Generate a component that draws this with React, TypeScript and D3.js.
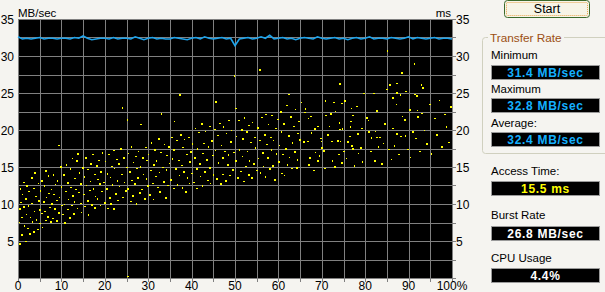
import React from "react";
import * as d3 from "d3";

const W = 605;
const H = 292;

const yTicks = [5, 10, 15, 20, 25, 30, 35];
const xTicks = [0, 10, 20, 30, 40, 50, 60, 70, 80, 90, 100];

// transfer rate (MB/sec) sampled at 0..100 %
const transferRate = [
  32.6, 32.3, 32.4, 32.3, 32.4, 32.5, 32.3, 32.4, 32.4, 32.3,
  32.4, 32.4, 32.3, 32.5, 32.4, 32.7, 32.4, 32.2, 32.3, 32.4,
  32.4, 32.3, 32.5, 32.3, 32.4, 32.4, 32.3, 32.6, 32.4, 32.2,
  32.4, 32.5, 32.3, 32.4, 32.3, 32.3, 32.5, 32.4, 32.3, 32.2,
  32.4, 32.5, 32.3, 32.6, 32.4, 32.3, 32.4, 32.5, 32.3, 32.4,
  31.4, 32.3, 32.4, 32.5, 32.3, 32.4, 32.6, 32.4, 32.8, 32.3,
  32.4, 32.5, 32.3, 32.4, 32.2, 32.4, 32.5, 32.4, 32.3, 32.6,
  32.4, 32.3, 32.4, 32.5, 32.3, 32.4, 32.2, 32.4, 32.5, 32.3,
  32.4, 32.6, 32.3, 32.4, 32.4, 32.3, 32.5, 32.4, 32.3, 32.4,
  32.6, 32.3, 32.5, 32.4, 32.3, 32.4, 32.5, 32.3, 32.4, 32.4,
  32.3,
];

// access time samples [position %, ms]
const accessPoints: [number, number][] = [
  [0.2,9.4],[0.3,7.6],[0.3,4.7],[0.4,10.3],[0.5,12.1],[0.7,8.2],[0.8,6.0],[0.9,11.4],[1.1,9.7],[1.2,13.0],[1.3,7.1],[1.5,5.0],[1.6,10.8],[1.8,8.6],[1.9,12.6],[2.1,6.8],[2.2,9.9],[2.4,11.7],[2.6,6.1],[2.7,8.3],[2.9,13.7],[3.0,10.1],[3.2,7.7],[3.4,12.2],[3.5,6.4],[3.7,9.0],[3.8,14.3],[4.0,11.1],[4.2,8.0],[4.3,6.6],[4.5,10.6],[4.6,12.9],[4.8,9.3],[4.9,7.4],
  [5.1,11.9],[5.2,8.8],[5.4,13.3],[5.5,6.9],[5.7,10.4],[5.9,9.1],[6.0,12.5],[6.2,7.9],[6.3,14.6],[6.5,10.9],[6.6,8.4],[6.8,11.5],[7.0,13.9],[7.1,9.6],[7.3,7.7],[7.5,12.0],[7.6,10.2],[7.8,8.1],[8.0,14.0],[8.1,11.3],[8.3,9.4],[8.5,12.7],[8.7,7.8],[8.8,10.6],[9.0,13.2],[9.2,18.0],[9.3,8.9],[9.5,11.0],[9.7,15.1],[9.8,9.8],
  [10.0,12.4],[10.2,8.6],[10.3,14.1],[10.5,10.0],[10.7,7.6],[10.8,11.8],[11.0,15.4],[11.2,9.3],[11.3,13.0],[11.5,10.7],[11.7,8.3],[11.9,12.3],[12.0,14.8],[12.2,9.9],[12.4,11.2],[12.5,16.2],[12.7,8.8],[12.9,13.5],[13.0,10.4],[13.2,12.0],[13.4,15.9],[13.5,9.5],[13.7,16.9],[13.9,11.6],[14.0,14.3],[14.2,10.1],[14.4,12.8],[14.6,8.9],[14.8,15.0],
  [15.0,11.4],[15.2,13.8],[15.3,9.7],[15.5,16.3],[15.7,12.6],[15.9,10.5],[16.0,14.7],[16.2,8.7],[16.4,11.9],[16.6,15.6],[16.7,13.1],[16.9,10.0],[17.1,16.8],[17.3,12.2],[17.4,14.0],[17.6,9.6],[17.8,11.1],[18.0,15.3],[18.1,13.4],[18.3,10.8],[18.5,16.0],[18.7,12.9],[18.9,9.9],[19.0,14.5],[19.2,11.7],[19.4,17.0],[19.6,13.0],[19.8,10.3],
  [20.0,15.8],[20.2,12.1],[20.4,9.5],[20.5,14.2],[20.7,16.7],[20.9,11.0],[21.1,13.6],[21.3,10.2],[21.4,15.1],[21.6,12.7],[21.8,17.3],[22.0,9.4],[22.2,14.8],[22.4,11.5],[22.5,16.1],[22.7,13.2],[22.9,10.6],[23.1,15.5],[23.3,12.4],[23.5,17.6],[23.7,14.0],[23.9,23.1],[24.0,10.9],[24.2,16.4],[24.4,13.0],[24.6,11.9],[24.8,15.0],
  [25.0,21.5],[25.1,0.3],[25.2,12.2],[25.4,16.9],[25.6,14.4],[25.8,10.4],[26.0,17.8],[26.1,13.3],[26.3,11.2],[26.5,15.7],[26.7,12.8],[26.9,16.5],[27.1,10.1],[27.3,14.9],[27.5,13.7],[27.7,17.1],[27.9,11.6],[28.0,20.8],[28.2,15.2],[28.4,12.0],[28.6,16.3],[28.8,14.1],[29.0,10.8],[29.2,17.7],[29.4,13.5],[29.6,15.9],[29.8,12.5],
  [30.0,16.8],[30.2,11.3],[30.4,14.6],[30.6,18.4],[30.8,12.9],[31.0,15.4],[31.2,10.7],[31.4,17.5],[31.6,13.8],[31.8,16.0],[32.0,12.3],[32.2,18.9],[32.4,14.3],[32.6,11.8],[32.8,17.0],[33.0,22.3],[33.2,15.0],[33.4,13.1],[33.6,18.1],[33.8,11.0],[34.0,16.6],[34.2,14.7],[34.4,12.6],[34.6,17.9],[34.8,15.6],
  [35.0,13.4],[35.2,19.1],[35.4,16.2],[35.6,12.1],[35.8,17.4],[36.0,21.2],[36.2,14.9],[36.4,18.6],[36.6,12.7],[36.8,16.0],[37.0,24.9],[37.1,13.9],[37.3,19.4],[37.5,15.3],[37.7,12.3],[37.9,17.7],[38.1,14.5],[38.3,18.8],[38.5,11.7],[38.7,16.7],[38.9,13.6],[39.1,19.0],[39.3,15.8],[39.5,12.9],[39.7,17.2],[39.9,14.2],
  [40.1,18.3],[40.3,13.0],[40.5,16.4],[40.7,20.3],[40.9,14.8],[41.1,12.2],[41.3,17.6],[41.5,19.7],[41.7,15.5],[41.9,13.8],[42.1,20.9],[42.3,16.9],[42.5,12.6],[42.7,18.2],[42.9,14.4],[43.1,19.9],[43.3,16.1],[43.5,13.3],[43.7,17.8],[43.9,20.6],[44.1,15.0],[44.3,12.9],[44.5,18.7],[44.7,16.6],[44.9,14.0],
  [45.1,20.1],[45.4,23.9],[45.5,17.3],[45.7,13.5],[45.9,19.3],[46.1,15.7],[46.3,21.0],[46.5,12.8],[46.7,18.0],[46.9,16.3],[47.1,14.1],[47.3,20.5],[47.5,17.1],[47.7,13.2],[47.9,19.6],[48.1,15.4],[48.3,21.3],[48.5,16.8],[48.7,13.9],[48.9,18.5],[49.1,20.0],[49.3,14.7],[49.5,17.0],[49.8,27.4],[49.9,23.0],
  [50.1,15.9],[50.3,19.2],[50.5,13.7],[50.7,21.4],[50.9,17.5],[51.1,14.4],[51.3,20.2],[51.5,16.5],[51.7,18.9],[51.9,13.1],[52.1,21.8],[52.3,15.2],[52.5,19.8],[52.7,17.2],[52.9,14.0],[53.1,20.7],[53.3,16.0],[53.5,18.4],[53.7,13.6],[53.9,21.1],[54.1,15.6],[54.3,19.0],[54.6,17.7],[54.8,14.6],
  [55.0,20.4],[55.2,16.2],[55.5,28.2],[55.6,18.6],[55.8,14.3],[56.0,21.7],[56.2,17.0],[56.4,15.1],[56.6,19.5],[56.8,22.2],[57.0,13.8],[57.2,18.1],[57.4,16.4],[57.6,20.8],[57.8,14.9],[58.0,19.1],[58.2,17.4],[58.4,22.0],[58.6,15.3],[58.8,18.7],[59.0,13.4],[59.2,20.3],[59.5,16.9],[59.7,21.5],[59.9,15.8],
  [60.1,18.0],[60.3,22.6],[60.5,14.2],[60.7,19.9],[60.9,16.7],[61.1,21.0],[61.3,13.9],[61.5,17.6],[61.7,23.4],[61.9,15.4],[62.1,24.8],[62.3,19.3],[62.5,16.3],[62.7,21.9],[62.9,14.8],[63.1,18.4],[63.3,20.6],[63.5,17.1],[63.8,22.9],[64.0,15.0],[64.2,19.6],[64.4,16.1],[64.6,21.2],[64.8,18.8],
  [65.2,23.8],[65.6,18.5],[66.0,22.5],[66.2,23.0],[66.6,18.5],[66.8,15.4],[66.9,21.6],[67.0,16.4],[67.3,21.9],[67.6,19.7],[67.9,14.6],[68.2,20.3],[68.5,17.0],[68.8,15.9],[69.0,20.5],[69.3,16.6],[69.6,18.9],[69.8,17.7],[69.9,18.5],
  [70.3,17.3],[70.5,14.9],[70.8,24.1],[70.8,22.0],[71.2,19.4],[71.7,20.5],[71.9,22.3],[72.1,18.5],[72.4,16.0],[72.6,23.8],[72.9,15.2],[73.1,22.6],[73.5,18.6],[73.8,16.8],[74.0,21.1],[74.0,20.1],[74.0,26.3],[74.2,18.5],[74.4,15.7],[74.5,23.6],[74.6,20.3],[74.8,17.2],
  [75.2,24.0],[75.5,16.2],[75.8,18.5],[76.2,19.2],[76.5,20.5],[76.5,21.2],[76.7,18.0],[76.8,23.0],[76.9,17.6],[77.0,22.0],[77.4,15.3],[77.8,23.3],[78.1,19.6],[78.4,16.9],[78.8,17.7],[79.0,20.3],[79.3,15.8],[79.5,25.0],
  [80.2,21.8],[80.7,21.4],[80.7,19.9],[81.0,17.1],[81.4,19.1],[81.8,25.0],[82.0,16.0],[82.3,19.9],[82.5,22.7],[82.5,19.1],[82.9,17.9],[83.2,19.1],[83.6,15.6],[84.1,18.2],[84.4,20.9],[84.7,25.5],[85.0,30.8],
  [85.3,17.4],[85.5,26.2],[85.9,16.1],[86.2,24.5],[86.2,20.3],[86.6,18.0],[87.2,26.3],[87.2,25.1],[87.2,23.5],[87.2,19.6],[87.6,16.7],[88.0,24.9],[88.0,19.2],[88.3,27.8],[88.5,21.9],[89.0,21.5],[89.2,25.3],[89.2,19.3],[89.6,17.5],
  [90.0,22.8],[90.4,16.3],[90.8,19.8],[91.2,24.9],[91.2,29.1],[91.5,18.9],[91.7,24.7],[91.9,22.7],[92.0,21.9],[92.4,17.2],[92.8,26.2],[92.9,22.3],[93.0,25.8],[93.6,20.0],[94.1,18.3],[94.6,23.5],
  [95.2,16.9],[95.9,21.6],[96.4,19.4],[96.9,24.0],[97.5,17.8],[98.1,22.1],[98.6,20.6],[99.1,18.4],[99.5,23.2],
];

const panelLabels = ["Minimum", "Maximum", "Average:", "Access Time:", "Burst Rate", "CPU Usage"];
const panelValues = ["31.4 MB/sec", "32.8 MB/sec", "32.4 MB/sec", "15.5 ms", "26.8 MB/sec", "4.4%"];
const panelColors = ["#14b0ff", "#14b0ff", "#14b0ff", "#ffff00", "#ffffff", "#ffffff"];
const labelBaselines = [59, 92.5, 126.5, 174.5, 219, 261.5];
const boxTops = [65, 98, 132, 181, 226, 268];

const FONT = "'Liberation Sans', Arial, sans-serif";

export default function App() {
  const x = d3.scaleLinear().domain([0, 100]).range([18, 452]);
  const y = d3.scaleLinear().domain([0, 35]).range([278, 19]);
  const crisp = (v: number) => Math.round(v) + 0.5;

  const vGrid = d3.range(0, 100.01, 5);
  const hGrid = d3.range(0, 35.01, 2.5);

  const line = d3
    .line<number>()
    .x((_, i) => x(i))
    .y((d) => y(d));

  return (
    <svg
      width={W}
      height={H}
      style={{ position: "absolute", left: 0, top: 0, display: "block" }}
      fontFamily={FONT}
    >
      <rect x={0} y={0} width={W} height={H} fill="#f5f4f0" />
      <rect x={x(0)} y={y(35)} width={x(100) - x(0)} height={y(0) - y(35)} fill="#000" />
      {vGrid.map((v) => (
        <line key={"v" + v} x1={crisp(x(v))} x2={crisp(x(v))} y1={y(35)} y2={y(0)} stroke="#808080" strokeWidth={1} />
      ))}
      {hGrid.map((v) => (
        <line key={"h" + v} x1={x(0)} x2={x(100)} y1={crisp(y(v))} y2={crisp(y(v))} stroke="#808080" strokeWidth={1} />
      ))}
      {vGrid.map((v) => (
        <line key={"bt" + v} x1={crisp(x(v))} x2={crisp(x(v))} y1={y(0)} y2={y(0) + 4} stroke="#808080" />
      ))}
      {hGrid.map((v) => (
        <line key={"rt" + v} x1={x(100)} x2={x(100) + 4} y1={crisp(y(v))} y2={crisp(y(v))} stroke="#808080" />
      ))}
      {accessPoints.map(([px, py], i) => (
        <rect
          key={"p" + i}
          x={Math.round(x(px))}
          y={Math.round(y(py))}
          width={i % 3 === 1 ? 1 : 2}
          height={i % 2 === 0 ? 2 : 1}
          fill="#ffff00"
        />
      ))}
      <path d={line(transferRate) || ""} fill="none" stroke="#1ea4ec" strokeWidth={1.6} />
      {yTicks.map((t) => (
        <text key={"yl" + t} x={14} y={y(t) + 4.5} fontSize={12} textAnchor="end" fill="#000">
          {t}
        </text>
      ))}
      {yTicks.map((t) => (
        <text key={"yr" + t} x={456} y={y(t) + 4.5} fontSize={12} textAnchor="start" fill="#000">
          {t}
        </text>
      ))}
      {xTicks.map((t) => (
        <text key={"xl" + t} x={x(t)} y={290} fontSize={12} textAnchor="middle" fill="#000">
          {t === 100 ? "100%" : t}
        </text>
      ))}
      <text x={18} y={16.5} fontSize={11.5} fill="#000">MB/sec</text>
      <text x={451} y={16.5} fontSize={11.5} textAnchor="end" fill="#000">ms</text>

      <rect x={504.5} y={0.5} width={85} height={17} rx={3} fill="#f7f4e6" stroke="#3c6a2a" />
      <rect x={506.5} y={2.5} width={81} height={13} rx={1} fill="none" stroke="#e8a44a" strokeDasharray="1 1" />
      <text x={547} y={13.3} fontSize={12.5} textAnchor="middle" fill="#000">Start</text>

      <rect x={482.5} y={37.5} width={140} height={116} rx={3} fill="none" stroke="#d0d0bf" />
      <rect x={488} y={31} width={76} height={12} fill="#f5f4f0" />
      <text x={490} y={41.5} fontSize={11.8} fill="#9c4f12">Transfer Rate</text>

      {panelLabels.map((l, i) => (
        <text key={"pl" + i} x={491} y={labelBaselines[i]} fontSize={11.5} fill="#000">
          {l}
        </text>
      ))}
      {panelValues.map((v, i) => (
        <g key={"pv" + i}>
          <rect x={491.5} y={boxTops[i] + 0.5} width={108} height={14} fill="#000" stroke="#9a9a9a" />
          <text
            x={545.5}
            y={boxTops[i] + 11.5}
            fontSize={12}
            fontWeight="bold"
            letterSpacing={0.7}
            textAnchor="middle"
            fill={panelColors[i]}
          >
            {v}
          </text>
        </g>
      ))}
    </svg>
  );
}
